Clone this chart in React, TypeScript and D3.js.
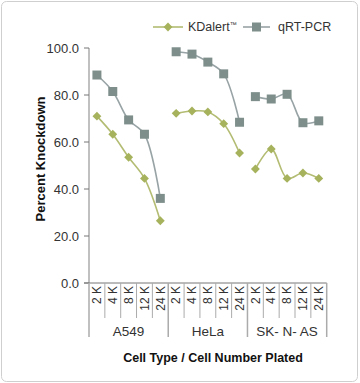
import * as React from 'react';
import * as d3 from 'd3';

const cellTypes = ['A549', 'HeLa', 'SK- N- AS'];
const cellNumbers = ['2 K', '4 K', '8 K', '12 K', '24 K'];
const kdalert = [
  [71, 63.3, 53.5, 44.5, 26.5],
  [72.2, 73.2, 72.8, 67.8, 55.3],
  [48.5, 57, 44.5, 46.8, 44.5],
];
const qrtpcr = [
  [88.5, 81.5, 69.4, 63.3, 36],
  [98.4, 97.4, 94, 89, 68.4],
  [79.3, 78.3, 80.3, 68.2, 69],
];
const yTicks = [0, 20, 40, 60, 80, 100];

const width = 360;
const height = 383;
const left = 89;
const right = 326.7;
const top = 48;
const bottom = 283;

const green = '#a7b25c';
const greenLine = '#b3bc72';
const gray = '#7e8f8b';
const grayLine = '#98a3a5';
const axisColor = '#ababab';

const App: React.FC = () => {
  const svgRef = React.useRef(null);

  React.useEffect(() => {
    draw();
  }, []);

  const draw = () => {
    const svg = d3.select(svgRef.current);
    svg.selectAll('*').remove();

    const cells: string[] = [];
    cellTypes.forEach((t) => cellNumbers.forEach((n) => cells.push(t + '|' + n)));

    const x = d3.scaleBand().domain(cells).range([left, right]).padding(0);
    const y = d3.scaleLinear().domain([0, 100]).range([bottom, top]);
    const cx = (g: number, i: number) => x(cellTypes[g] + '|' + cellNumbers[i])! + x.bandwidth() / 2;

    svg.append('rect')
      .attr('x', 1.5).attr('y', 1.5)
      .attr('width', width - 4).attr('height', height - 3)
      .attr('rx', 5)
      .attr('fill', '#fff')
      .attr('stroke', '#cfcfcf');

    // y axis
    const yAxis = svg.append('g');
    yAxis.append('line')
      .attr('x1', left).attr('x2', left)
      .attr('y1', top).attr('y2', bottom)
      .attr('stroke', axisColor).attr('stroke-width', 1.5);
    yTicks.forEach((t) => {
      yAxis.append('line')
        .attr('x1', left - 5).attr('x2', left)
        .attr('y1', y(t)).attr('y2', y(t))
        .attr('stroke', '#777');
      yAxis.append('text')
        .attr('x', 79).attr('y', y(t))
        .attr('dy', '0.35em')
        .attr('text-anchor', 'end')
        .attr('font-family', 'Liberation Sans, Arial, sans-serif')
        .attr('font-size', 13)
        .attr('fill', '#333')
        .text(d3.format('.1f')(t));
    });

    svg.append('text')
      .attr('transform', `translate(45,159) rotate(-90)`)
      .attr('text-anchor', 'middle')
      .attr('font-family', 'Liberation Sans Narrow, Arial Narrow, sans-serif')
      .attr('font-weight', 'bold')
      .attr('font-size', 13)
      .attr('fill', '#111')
      .text('Percent Knockdown');

    // x axis
    const xAxis = svg.append('g');
    xAxis.append('line')
      .attr('x1', left - 5).attr('x2', right)
      .attr('y1', bottom).attr('y2', bottom)
      .attr('stroke', '#777');
    cells.forEach((c, i) => {
      xAxis.append('line')
        .attr('x1', x(c)!).attr('x2', x(c)!)
        .attr('y1', bottom).attr('y2', i % 5 === 0 ? 337 : 318)
        .attr('stroke', axisColor).attr('stroke-width', i % 5 === 0 ? 1.5 : 1);
      xAxis.append('text')
        .attr('transform', `translate(${x(c)! + x.bandwidth() / 2},286) rotate(-90)`)
        .attr('text-anchor', 'end')
        .attr('dy', '0.35em')
        .attr('font-family', 'Liberation Sans, Arial, sans-serif')
        .attr('font-size', 12)
        .attr('fill', '#333')
        .text(c.split('|')[1]);
    });
    xAxis.append('line')
      .attr('x1', right).attr('x2', right)
      .attr('y1', bottom).attr('y2', 337)
      .attr('stroke', axisColor).attr('stroke-width', 1.5);
    cellTypes.forEach((t, g) => {
      const c0 = x(t + '|' + cellNumbers[0])!;
      xAxis.append('text')
        .attr('x', c0 + (x.bandwidth() * 5) / 2)
        .attr('y', 336)
        .attr('text-anchor', 'middle')
        .attr('font-family', 'Liberation Sans Narrow, Arial Narrow, sans-serif')
        .attr('font-size', 13.5)
        .attr('fill', '#333')
        .text(t);
    });

    svg.append('text')
      .attr('x', 213).attr('y', 362)
      .attr('text-anchor', 'middle')
      .attr('font-family', 'Liberation Sans Narrow, Arial Narrow, sans-serif')
      .attr('font-weight', 'bold')
      .attr('font-size', 12.5)
      .attr('fill', '#111')
      .text('Cell Type / Cell Number Plated');

    const line = d3.line<number>()
      .x((d, i) => i)
      .y((d) => y(d))
      .curve(d3.curveCatmullRom.alpha(0.5));

    const diamond = d3.symbol().type(d3.symbolDiamond2).size(50);
    const square = d3.symbol().type(d3.symbolSquare).size(81);

    const drawSeries = (data: number[][], lineColor: string, color: string, sym: any) => {
      data.forEach((vals, g) => {
        const l = d3.line<number>()
          .x((d, i) => cx(g, i))
          .y((d) => y(d))
          .curve(d3.curveCatmullRom.alpha(0.5));
        svg.append('path')
          .attr('d', l(vals))
          .attr('fill', 'none')
          .attr('stroke', lineColor)
          .attr('stroke-width', 1.6);
        svg.selectAll(null)
          .data(vals)
          .enter()
          .append('path')
          .attr('transform', (d, i) => `translate(${cx(g, i)},${y(d)})`)
          .attr('d', sym())
          .attr('fill', color);
      });
    };

    drawSeries(qrtpcr, grayLine, gray, square);
    drawSeries(kdalert, greenLine, green, diamond);

    // legend
    const leg = svg.append('g');
    leg.append('line').attr('x1', 153).attr('x2', 183).attr('y1', 27).attr('y2', 27)
      .attr('stroke', greenLine).attr('stroke-width', 1.6);
    leg.append('path').attr('transform', 'translate(168,27)').attr('d', diamond()).attr('fill', green);
    leg.append('text').attr('x', 188).attr('y', 31)
      .attr('font-family', 'Liberation Sans Narrow, Arial Narrow, sans-serif')
      .attr('font-size', 12.5).attr('fill', '#333')
      .text('KDalert')
      .append('tspan').attr('font-size', 7).attr('dy', -4).text('™');
    leg.append('line').attr('x1', 243).attr('x2', 270).attr('y1', 27).attr('y2', 27)
      .attr('stroke', grayLine).attr('stroke-width', 1.6);
    leg.append('path').attr('transform', 'translate(256.5,27)').attr('d', square()).attr('fill', gray);
    leg.append('text').attr('x', 278).attr('y', 31)
      .attr('font-family', 'Liberation Sans Narrow, Arial Narrow, sans-serif')
      .attr('font-size', 12.5).attr('fill', '#333')
      .text('qRT-PCR');
  };

  return (
    <svg ref={svgRef} width={width} height={height} style={{ position: 'absolute', left: 0, top: 0 }}></svg>
  );
};

export default App;
